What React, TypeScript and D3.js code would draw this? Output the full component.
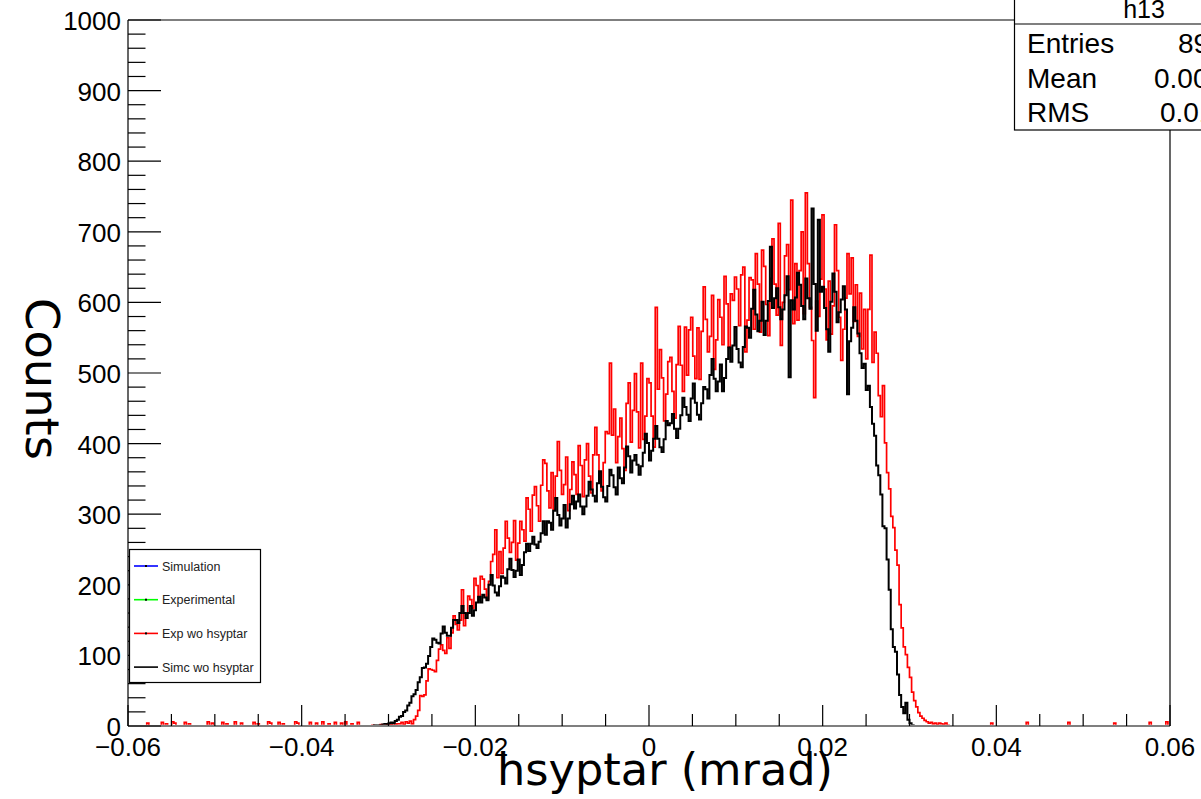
import React from 'react';
import * as d3 from 'd3';

// ---- data ----
const xMin = -0.06;
const xMax = 0.06;
const binWidth = 0.00024;
const yMax = 1000;

const xTicks = [-0.06, -0.04, -0.02, 0, 0.02, 0.04, 0.06];
const xTickLabels = ['\u22120.06', '\u22120.04', '\u22120.02', '0', '0.02', '0.04', '0.06'];
const yTicks = [0, 100, 200, 300, 400, 500, 600, 700, 800, 900, 1000];
const yTickLabels = ['0', '100', '200', '300', '400', '500', '600', '700', '800', '900', '1000'];

// first listed bin lower edge (hsyptar)
const simcFirstX = -0.03216;
const simcCounts = [
  0, 0, 1, 0,
  1, 0, 2, 3, 2, 4, 5, 4, 7, 9,
  13, 14, 20, 22, 29, 33, 42, 45, 51, 62,
  69, 82, 83, 88, 99, 112, 124, 122, 118, 117,
  131, 141, 132, 128, 128, 139, 150, 150, 146, 160,
  170, 160, 153, 160, 170, 156, 164, 175, 183, 175,
  186, 182, 178, 200, 214, 199, 189, 185, 198, 212,
  210, 202, 222, 237, 221, 211, 220, 236, 214, 228,
  246, 258, 248, 258, 268, 257, 252, 261, 273, 290,
  271, 290, 288, 278, 305, 323, 299, 284, 294, 313,
  281, 294, 314, 326, 308, 318, 328, 311, 300, 311,
  326, 346, 335, 326, 318, 344, 361, 339, 324, 318,
  340, 363, 355, 338, 328, 366, 351, 344, 366, 396,
  382, 359, 376, 384, 370, 356, 368, 387, 414, 401,
  376, 390, 407, 425, 407, 395, 388, 406, 432, 426,
  429, 442, 421, 408, 421, 440, 465, 452, 441, 432,
  464, 485, 458, 441, 434, 457, 480, 477, 464, 497,
  520, 492, 474, 488, 512, 474, 493, 520, 536, 516,
  539, 565, 534, 515, 508, 537, 566, 564, 550, 591,
  618, 583, 559, 574, 601, 554, 574, 602, 679, 592,
  606, 620, 593, 576, 590, 610, 637, 494, 603, 590,
  607, 642, 625, 595, 576, 634, 606, 591, 733, 626,
  560, 717, 615, 622, 592, 562, 530, 601, 641, 615,
  572, 586, 604, 623, 590, 470, 545, 564, 593, 574,
  556, 528, 507, 513, 476, 482, 452, 428, 411, 369,
  355, 328, 283, 280, 236, 193, 137, 112, 105, 73,
  44, 27, 18, 33, 9, 4, 1,
];

const expFirstX = -0.03216;
const expCounts = [
  0, 1, 0, 0,
  0, 2, 1, 0, 3, 1, 2, 4, 1, 3,
  3, 5, 2, 6, 4, 7, 3, 9, 14, 22,
  43, 42, 44, 64, 81, 80, 79, 77, 93, 109,
  115, 107, 103, 125, 110, 132, 156, 144, 136, 150,
  193, 142, 159, 184, 179, 167, 209, 199, 179, 212,
  208, 194, 180, 205, 233, 243, 278, 210, 247, 216,
  252, 290, 266, 246, 260, 291, 235, 259, 290, 278,
  262, 323, 307, 276, 327, 339, 312, 290, 341, 377,
  372, 333, 309, 359, 307, 354, 403, 362, 328, 342,
  381, 305, 335, 374, 356, 328, 397, 369, 325, 377,
  400, 354, 330, 384, 423, 384, 359, 333, 373, 417,
  414, 514, 412, 449, 373, 410, 436, 393, 362, 457,
  486, 402, 447, 499, 445, 394, 514, 406, 439, 492,
  486, 439, 395, 593, 477, 533, 493, 432, 470, 516,
  522, 474, 436, 512, 566, 511, 474, 565, 497, 561,
  579, 524, 492, 564, 491, 559, 622, 576, 530, 552,
  610, 505, 547, 604, 579, 540, 637, 598, 537, 612,
  603, 636, 619, 567, 639, 650, 530, 575, 635, 632,
  562, 669, 626, 558, 674, 651, 597, 553, 634, 690,
  626, 582, 712, 539, 600, 666, 682, 618, 745, 570,
  655, 575, 645, 700, 584, 755, 655, 593, 546, 465,
  602, 580, 633, 724, 619, 547, 630, 555, 595, 710,
  645, 579, 518, 562, 606, 669, 612, 663, 573, 625,
  552, 613, 534, 590, 520, 590, 667, 515, 558, 528,
  468, 438, 482, 401, 359, 336, 297, 281, 249, 228,
  172, 139, 112, 101, 83, 69, 48, 36, 27, 19,
  14, 11, 8, 6, 4, 5, 3, 4, 2, 4,
  3, 2, 4, 1,
];

// isolated single-bin entries of the experimental histogram outside the main peak
const expTailX = [
  -0.0577, -0.0560, -0.0555, -0.0548, -0.0546, -0.0534, -0.0529, -0.0507, -0.0503,
  -0.0491, -0.0486, -0.0476, -0.0469, -0.0455, -0.0450, -0.0438, -0.0435, -0.0426,
  -0.0421, -0.0407, -0.0404, -0.0390, -0.0383, -0.0376, -0.0368, -0.0361, -0.0354,
  -0.0349, -0.0342, -0.0335, 0.0395, 0.0436, 0.0484, 0.0536, 0.0577, 0.0596,
];
const expTailCounts = [
  4, 5, 3, 6, 4, 5, 3, 6, 4,
  5, 3, 6, 4, 5, 3, 6, 4, 5,
  3, 6, 4, 5, 4, 6, 3, 5, 4,
  6, 3, 5, 4, 5, 5, 4, 5, 6,
];

const legendLabels = ['Simulation', 'Experimental', 'Exp wo hsyptar', 'Simc wo hsyptar'];
const legendColors = ['#0000ff', '#00ff00', '#ff0000', '#000000'];

const statsTitle = 'h13';
const statsNames = ['Entries', 'Mean', 'RMS'];
const statsValues = ['89536', '0.003618', '0.01392'];

// ---- layout ----
const W = 1201;
const H = 799;
const left = 128, right = 1170, top = 20, bottom = 726;

const x = d3.scaleLinear().domain([xMin, xMax]).range([left, right]);
const y = d3.scaleLinear().domain([0, yMax]).range([bottom, top]);

const nBins = Math.round((xMax - xMin) / binWidth);

function buildBins(firstX: number, counts: number[], tailX: number[] = [], tailC: number[] = []) {
  const arr = new Array(nBins).fill(0);
  const off = Math.round((firstX - xMin) / binWidth);
  counts.forEach((c, j) => { if (off + j < nBins) arr[off + j] = c; });
  tailX.forEach((tx, j) => {
    const b = Math.floor((tx - xMin) / binWidth);
    if (b >= 0 && b < nBins) arr[b] = tailC[j];
  });
  return arr;
}

function histPath(bins: number[]) {
  const pts: [number, number][] = [];
  bins.forEach((c, i) => {
    const x0 = x(xMin + i * binWidth);
    const x1 = x(xMin + (i + 1) * binWidth);
    pts.push([x0, y(c)], [x1, y(c)]);
  });
  return d3.line()(pts) || '';
}

const simcBins = buildBins(simcFirstX, simcCounts);
const expBins = buildBins(expFirstX, expCounts, expTailX, expTailCounts);

const xMinor = d3.range(-0.06, 0.0601, 0.005).filter(v => !xTicks.some(t => Math.abs(t - v) < 1e-9));
const yMinor = d3.range(0, 1001, 20).filter(v => v % 100 !== 0);

const tickFont = 'Liberation Sans, Arial, Helvetica, sans-serif';

export default function App() {
  return (
    <svg width={W} height={H} style={{ position: 'absolute', left: 0, top: 0, background: '#fff' }}>
      <defs>
        <clipPath id="frame">
          <rect x={left} y={top} width={right - left} height={bottom - top - 1.2} />
        </clipPath>
      </defs>
      <rect x={0} y={0} width={W} height={H} fill="#fff" />

      <g clipPath="url(#frame)" fill="none">
        <path d={histPath(expBins)} stroke="#ff0000" strokeWidth={1.7} />
        <path d={histPath(simcBins)} stroke="#000000" strokeWidth={2} />
      </g>

      {/* frame */}
      <g stroke="#000" strokeWidth={1.2} fill="none">
        <line x1={left} y1={top} x2={right} y2={top} />
        <line x1={right} y1={top} x2={right} y2={bottom} />
        <line x1={left} y1={top} x2={left} y2={bottom} />
        <line x1={left} y1={bottom} x2={right} y2={bottom} />
      </g>

      {/* ticks */}
      <g stroke="#000" strokeWidth={1.2}>
        {xTicks.map(t => (
          <line key={'xt' + t} x1={x(t)} x2={x(t)} y1={bottom} y2={bottom - 21} />
        ))}
        {xMinor.map(t => (
          <line key={'xm' + t} x1={x(t)} x2={x(t)} y1={bottom} y2={bottom - 12} />
        ))}
        {yTicks.map(t => (
          <line key={'yt' + t} x1={left} x2={left + 33} y1={y(t)} y2={y(t)} />
        ))}
        {yMinor.map(t => (
          <line key={'ym' + t} x1={left} x2={left + 17.5} y1={y(t)} y2={y(t)} />
        ))}
      </g>

      {/* tick labels */}
      <g fontFamily={tickFont} fontSize={26} fill="#000">
        {xTicks.map((t, i) => (
          <text key={'xl' + t} x={x(t)} y={756} textAnchor="middle">{xTickLabels[i]}</text>
        ))}
        {yTicks.map((t, i) => (
          <text key={'yl' + t} x={121} y={y(t) + 10} textAnchor="end">{yTickLabels[i]}</text>
        ))}
      </g>

      {/* axis titles */}
      <text x={665} y={785} textAnchor="middle" fontFamily="DejaVu Sans, sans-serif" fontSize={44}
        textLength={336} lengthAdjust="spacingAndGlyphs">hsyptar (mrad)</text>
      <text transform="translate(26,379) rotate(90)" textAnchor="middle" fontFamily="DejaVu Sans, sans-serif"
        fontSize={46} textLength={162} lengthAdjust="spacingAndGlyphs">Counts</text>

      {/* legend */}
      <g>
        <rect x={129.5} y={549.5} width={131} height={133} fill="#fff" stroke="#000" strokeWidth={1.2} />
        {legendLabels.map((lab, i) => {
          const ly = 566 + i * 33.7;
          return (
            <g key={lab}>
              <line x1={134} x2={158} y1={ly} y2={ly} stroke={legendColors[i]} strokeWidth={1.6} />
              {i < 3 && <rect x={145} y={ly - 1} width={2} height={2} fill="#000" />}
              <text x={162} y={ly + 4.5} fontFamily={tickFont} fontSize={12.5} fill="#222">{lab}</text>
            </g>
          );
        })}
      </g>

      {/* stats box */}
      <g fontFamily={tickFont} fill="#000">
        <rect x={1014.5} y={-2} width={260} height={132} fill="#fff" stroke="#000" strokeWidth={1.2} />
        <line x1={1014.5} x2={1201} y1={24} y2={24} stroke="#000" strokeWidth={1.2} />
        <text x={1144} y={18} textAnchor="middle" fontSize={25}>{statsTitle}</text>
        {statsNames.map((n, i) => (
          <g key={n}>
            <text x={1027} y={53 + i * 34.5} fontSize={28}>{n}</text>
            <text x={[1178, 1154, 1160][i]} y={53 + i * 34.5} fontSize={28}>{statsValues[i]}</text>
          </g>
        ))}
      </g>
    </svg>
  );
}
